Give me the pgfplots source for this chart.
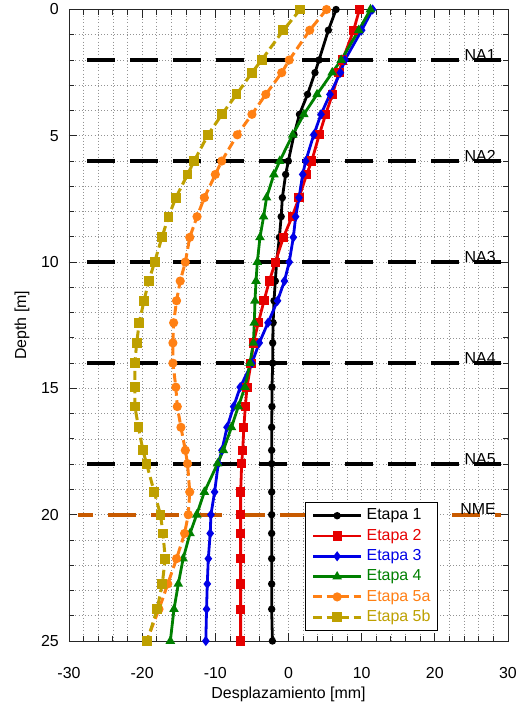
\documentclass[border=0pt]{standalone}
\usepackage{pgfplots}
\pgfplotsset{compat=1.18}
\usepackage{pgfplotstable}
\usepackage{fontspec}
\setmainfont{Liberation Sans}

\definecolor{cE2}{RGB}{230,0,0}
\definecolor{cE3}{RGB}{0,0,230}
\definecolor{cE4}{RGB}{0,128,0}
\definecolor{cE5a}{RGB}{255,128,20}
\definecolor{cE5b}{RGB}{190,160,0}
\definecolor{cNME}{RGB}{200,90,0}

% Lateral displacement profiles (mm) versus depth (m) for each excavation stage
\pgfplotstableread{
d      e1     e2     e3      e4      e5a     e5b
0.00   6.50   9.70   11.50   11.20   5.20    1.60
0.82   5.45   8.90   10.00   9.60    2.90    -0.70
2.00   4.17   7.40   7.70    7.20    0.10    -3.67
2.50   3.62   6.90   7.10    5.97    -0.93   -5.00
3.36   2.60   6.00   5.67    3.90    -3.10   -7.10
4.15   1.50   5.08   4.44    2.10    -5.00   -9.10
4.96   0.75   4.20   3.45    0.57    -7.00   -11.00
6.00   -0.02  3.17   2.35    -1.20   -9.13   -12.90
6.53   -0.39  2.48   1.94    -2.00   -10.00  -13.80
7.45   -0.84  1.44   1.44    -3.00   -11.50  -15.40
8.20   -1.00  0.50   0.98    -3.40   -12.50  -16.40
9.02   -1.25  -0.70  0.66    -3.90   -13.50  -17.30
10.00  -1.62  -1.80  0.10    -4.26   -14.10  -18.30
10.75  -1.80  -2.62  -0.55   -4.44   -14.80  -19.10
11.53  -1.98  -3.35  -1.50   -4.58   -15.30  -19.75
12.40  -2.10  -4.12  -2.80   -4.67   -15.70  -20.40
13.20  -2.16  -4.80  -4.00   -4.80   -15.80  -20.75
14.00  -2.16  -5.13  -5.00   -5.26   -15.80  -21.00
14.95  -2.26  -5.67  -6.60   -5.95   -15.40  -21.00
15.72  -2.26  -5.90  -7.50   -6.86   -15.20  -21.00
16.54  -2.30  -6.10  -8.40   -7.80   -14.70  -20.50
17.45  -2.30  -6.26  -9.10   -8.90   -14.10  -19.90
17.98  -2.30  -6.40  -9.60   -9.70   -13.80  -19.40
19.10  -2.30  -6.54  -10.10  -11.50  -13.50  -18.35
20.00  -2.30  -6.54  -10.60  -12.55  -13.70  -17.50
20.74  -2.30  -6.54  -10.70  -13.46  -14.20  -17.15
21.74  -2.30  -6.54  -10.96  -14.40  -15.30  -16.85
22.74  -2.30  -6.54  -11.10  -15.06  -16.50  -17.25
23.74  -2.30  -6.54  -11.20  -15.65  -17.70  -17.95
25.00  -2.20  -6.54  -11.30  -16.15  -19.40  -19.30
}\profiles

\newcommand{\lblfont}{\fontsize{16}{19}\selectfont}

\begin{document}
\begin{tikzpicture}
\begin{axis}[
  name=ax,
  scale only axis,
  width=439bp, height=631.5bp,
  xmin=-30, xmax=30, ymin=0, ymax=25,
  y dir=reverse,
  clip=false,
  xtick={-30,-20,...,30},
  ytick={0,5,...,25},
  minor x tick num=4,
  minor y tick num=4,
  grid=both,
  major grid style={gray!85, line width=0.7bp, dash pattern=on 1bp off 2.2bp},
  minor grid style={gray!85, line width=0.7bp, dash pattern=on 1bp off 2.2bp},
  tick align=inside,
  major tick length=8bp,
  minor tick length=5bp,
  axis line style={black!85, line width=0.9bp},
  every tick/.style={black!85, line width=0.9bp},
  /pgf/number format/assume math mode=true,
  tick label style={font=\lblfont},
  xticklabel style={anchor=base, yshift=-37bp},
  yticklabel style={xshift=-6.7bp},
  label style={font=\lblfont},
  xlabel={Desplazamiento [mm]},
  ylabel={Depth [m]},
  xlabel style={at={(axis description cs:0.5,-0.0918)}, anchor=base},
  ylabel style={at={(axis description cs:-0.107,0.5)}, anchor=center},
  legend cell align=left,
  legend style={
    at={(axis description cs:0.5376,0.2206)}, anchor=north west,
    draw=black, line width=1.3bp, fill=white,
    font=\fontsize{16}{19}\selectfont,
    inner xsep=6bp, inner ysep=5bp,
    row sep=3.6bp, column sep=3bp,
    nodes={inner sep=1bp, text height=11.5bp, text depth=3.2bp},
  },
  legend image code/.code={%
    \draw[mark repeat=2, mark phase=2, #1]
      plot coordinates {(0bp,0bp) (24bp,0bp) (48bp,0bp)};},
]

% anchor levels and water table
\addplot[forget plot, black, line width=3.6bp, dash pattern=on 28bp off 15bp]
  coordinates {(-27.5,2) (29,2)};
\addplot[forget plot, black, line width=3.6bp, dash pattern=on 28bp off 15bp]
  coordinates {(-27.5,6) (29,6)};
\addplot[forget plot, black, line width=3.6bp, dash pattern=on 28bp off 15bp]
  coordinates {(-27.5,10) (29,10)};
\addplot[forget plot, black, line width=3.6bp, dash pattern=on 28bp off 15bp]
  coordinates {(-27.5,14) (29,14)};
\addplot[forget plot, black, line width=3.6bp, dash pattern=on 28bp off 15bp]
  coordinates {(-27.5,18) (29,18)};
\addplot[forget plot, cNME, line width=4bp, dash pattern=on 28bp off 15bp, dash phase=13bp]
  coordinates {(-28.8,20) (29,20)};

\node[anchor=base east, font=\lblfont] at (axis cs:28.8,2) {NA1};
\node[anchor=base east, font=\lblfont] at (axis cs:28.8,6) {NA2};
\node[anchor=base east, font=\lblfont] at (axis cs:28.8,10) {NA3};
\node[anchor=base east, font=\lblfont] at (axis cs:28.8,14) {NA4};
\node[anchor=base east, font=\lblfont] at (axis cs:28.8,18) {NA5};
\node[anchor=base east, font=\lblfont] at (axis cs:28.8,20) {NME};

\addplot[black, line width=2.8bp, mark=*, mark size=2.2bp]
  table[x=e1, y=d] {\profiles};
\addlegendentry{Etapa 1}
\addplot[cE2, line width=2.8bp, mark=square*, mark size=3.2bp]
  table[x=e2, y=d] {\profiles};
\addlegendentry{\textcolor{cE2}{Etapa 2}}
\addplot[cE3, line width=2.8bp, mark=diamond*, mark size=2.8bp]
  table[x=e3, y=d] {\profiles};
\addlegendentry{\textcolor{cE3}{Etapa 3}}
\addplot[cE4, line width=2.8bp, mark=triangle*, mark size=2.8bp]
  table[x=e4, y=d] {\profiles};
\addlegendentry{\textcolor{cE4}{Etapa 4}}
\addplot[cE5a, line width=3bp, dash pattern=on 9bp off 4.5bp, mark=*, mark size=3bp, mark options={solid}]
  table[x=e5a, y=d] {\profiles};
\addlegendentry{\textcolor{cE5a}{Etapa 5a}}
\addplot[cE5b, line width=3bp, dash pattern=on 9bp off 4.5bp, mark=square*, mark size=3.4bp, mark options={solid}]
  table[x=e5b, y=d] {\profiles};
\addlegendentry{\textcolor{cE5b}{Etapa 5b}}
\end{axis}
\pgfresetboundingbox
\path[use as bounding box] ([xshift=-69bp,yshift=-70bp]ax.south west) rectangle ([xshift=13bp,yshift=9.5bp]ax.north east);
\end{tikzpicture}
\end{document}
